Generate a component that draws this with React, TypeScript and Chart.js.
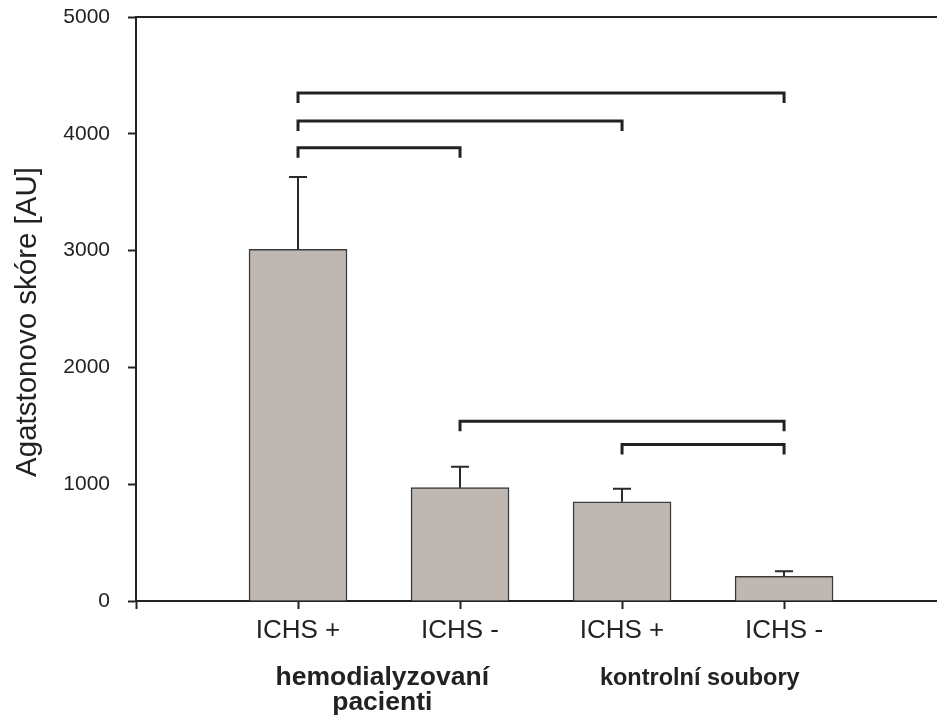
import React, { useEffect, useRef } from "react";
import { Chart, registerables } from "chart.js";

Chart.register(...registerables);

const categories = ["ICHS +", "ICHS -", "ICHS +", "ICHS -"];
const xPositions = [1, 2, 3, 4];
const means = [3010, 970, 850, 212];
const errorTops = [3630, 1150, 962, 255];
const yTicks = [0, 1000, 2000, 3000, 4000, 5000];
const groupLabels = [["hemodialyzovaní", "pacienti"], ["kontrolní soubory"]];
const groupCenters = [1.52, 3.48];
const bracketFrom = [1, 1, 1, 2, 3];
const bracketTo = [4, 3, 2, 4, 4];
const bracketY = [4350, 4110, 3880, 1540, 1340];
const yTitle = "Agatstonovo skóre [AU]";

const FONT = "'Liberation Sans', Arial, Helvetica, sans-serif";
const INK = "#222222";
const GROUP_FONT_SIZES = [26.5, 23.5];

const overlayPlugin = {
  id: "overlay",
  afterDatasetsDraw(chart: any) {
    const { ctx, chartArea, scales } = chart;
    const xs = scales.x;
    const ys = scales.y;
    ctx.save();
    // top frame line
    ctx.strokeStyle = INK;
    ctx.lineWidth = 2;
    ctx.beginPath();
    ctx.moveTo(chartArea.left, chartArea.top);
    ctx.lineTo(chartArea.right, chartArea.top);
    ctx.stroke();
    // error bars
    ctx.strokeStyle = "#2a2a2a";
    ctx.lineWidth = 2;
    xPositions.forEach((xv, i) => {
      const px = Math.round(xs.getPixelForValue(xv));
      const y0 = ys.getPixelForValue(means[i]);
      const y1 = ys.getPixelForValue(errorTops[i]);
      ctx.beginPath();
      ctx.moveTo(px, y0);
      ctx.lineTo(px, y1);
      ctx.moveTo(px - 9, y1);
      ctx.lineTo(px + 9, y1);
      ctx.stroke();
    });
    // significance brackets
    ctx.strokeStyle = INK;
    ctx.lineWidth = 3;
    ctx.lineCap = "butt";
    ctx.lineJoin = "miter";
    bracketY.forEach((bv, i) => {
      const x0 = xs.getPixelForValue(bracketFrom[i]);
      const x1 = xs.getPixelForValue(bracketTo[i]);
      const y = ys.getPixelForValue(bv);
      ctx.beginPath();
      ctx.moveTo(x0, y + 10);
      ctx.lineTo(x0, y);
      ctx.lineTo(x1, y);
      ctx.lineTo(x1, y + 10);
      ctx.stroke();
    });
    // group labels
    ctx.fillStyle = INK;
    ctx.textAlign = "center";
    ctx.textBaseline = "alphabetic";
    groupLabels.forEach((lines, i) => {
      ctx.font = "bold " + GROUP_FONT_SIZES[i] + "px " + FONT;
      const px = xs.getPixelForValue(groupCenters[i]);
      lines.forEach((t, j) => {
        ctx.fillText(t, px, 685 + j * 25);
      });
    });
    // y title
    ctx.font = "29.5px " + FONT;
    ctx.translate(36, 322);
    ctx.rotate(-Math.PI / 2);
    ctx.fillText(yTitle, 0, 0);
    ctx.restore();
  },
};

export default function App() {
  const ref = useRef<HTMLCanvasElement | null>(null);
  useEffect(() => {
    if (!ref.current) return;
    const chart = new Chart(ref.current, {
      type: "bar",
      data: {
        datasets: [
          {
            data: xPositions.map((x, i) => ({ x, y: means[i] })),
            backgroundColor: "#bfb7b2",
            borderColor: "#3a3a3a",
            borderWidth: 1.5,
            barThickness: 98,
          },
        ],
      },
      options: {
        animation: false,
        responsive: false,
        maintainAspectRatio: false,
        layout: { padding: { top: 17, right: 0, left: 0, bottom: 0 } },
        plugins: { legend: { display: false }, tooltip: { enabled: false } },
        scales: {
          x: {
            type: "linear",
            offset: false,
            min: 0,
            max: 4.944,
            afterFit: (s: any) => {
              s.height = 119;
              s.paddingLeft = 0;
              s.paddingRight = 0;
            },
            afterBuildTicks: (s: any) => {
              s.ticks = [0, ...xPositions].map((v) => ({ value: v }));
            },
            grid: { offset: false, drawOnChartArea: false, tickLength: 8, tickWidth: 2, tickColor: INK },
            border: { color: INK, width: 2 },
            ticks: {
              autoSkip: false,
              maxRotation: 0,
              padding: 6,
              color: INK,
              font: { family: FONT, size: 26 },
              callback: (v: any) => {
                const i = xPositions.indexOf(Number(v));
                return i >= 0 ? categories[i] : "";
              },
            },
          },
          y: {
            min: 0,
            max: 5000,
            afterFit: (s: any) => {
              s.width = 136;
              s.paddingTop = 0;
              s.paddingBottom = 0;
            },
            afterBuildTicks: (s: any) => {
              s.ticks = yTicks.map((v) => ({ value: v }));
            },
            grid: { drawOnChartArea: false, tickLength: 8, tickWidth: 2, tickColor: INK },
            border: { color: INK, width: 2 },
            ticks: {
              padding: 18,
              color: INK,
              font: { family: FONT, size: 21 },
              callback: (v: any) => String(v),
            },
          },
        },
      },
      plugins: [overlayPlugin],
    });
    return () => chart.destroy();
  }, []);
  return (
    <div style={{ position: "absolute", left: 0, top: 0, width: 937, height: 720, background: "#fff" }}>
      <canvas ref={ref} width={937} height={720} style={{ display: "block" }} />
    </div>
  );
}
